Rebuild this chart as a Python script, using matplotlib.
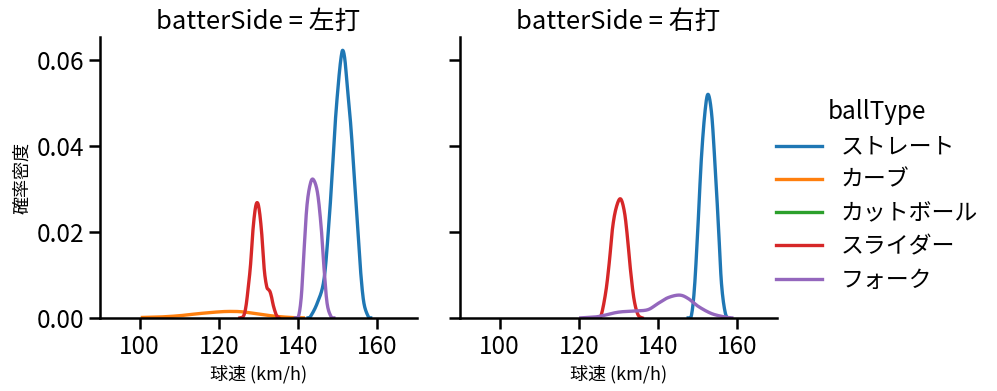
import numpy as np
import matplotlib
matplotlib.use("Agg")
import matplotlib.pyplot as plt

plt.rcParams['font.family'] = ['Noto Sans CJK JP', 'DejaVu Sans']

ball_types = ['ストレート', 'カーブ', 'カットボール', 'スライダー', 'フォーク']
colors = ['#1f77b4', '#ff7f0e', '#2ca02c', '#d62728', '#9467bd']
sides = ['左打', '右打']

# density curves: (speed km/h, density)
left_straight_x = [142.5, 143.1, 144.8, 146.5, 147.7, 148.6, 149.4, 150.3, 150.9, 151.3, 151.8, 152.4, 153.3, 154.1, 155.0, 155.8, 156.6, 157.7, 158.3]
left_straight_y = [0.0, 0.0003, 0.0034, 0.0088, 0.0212, 0.0337, 0.046, 0.0561, 0.0610, 0.0622, 0.0600, 0.0538, 0.0445, 0.0337, 0.0212, 0.0104, 0.0034, 0.0003, 0.0]
left_curve_x = [100.7, 105, 110, 115, 120, 123, 126, 130, 134, 138, 141.3]
left_curve_y = [0.0001, 0.0002, 0.0005, 0.0010, 0.0014, 0.0015, 0.0014, 0.0009, 0.0004, 0.0001, 0.0]
left_slider_x = [125.3, 126.2, 126.8, 127.4, 128.0, 128.6, 129.2, 129.7, 130.2, 130.8, 131.45, 132.06, 132.5, 132.9, 133.3, 133.7, 134.2, 134.6, 135.2]
left_slider_y = [0.0, 0.0004, 0.0025, 0.007, 0.0125, 0.0205, 0.0255, 0.0268, 0.0250, 0.0197, 0.0112, 0.0073, 0.0066, 0.0061, 0.0048, 0.003, 0.0014, 0.0005, 0.0]
left_fork_x = [139.3, 140.1, 140.8, 141.4, 142.2, 143.1, 143.9, 144.9, 145.8, 146.5, 147.3, 148.3, 149.0]
left_fork_y = [0.0, 0.0004, 0.005, 0.0143, 0.0259, 0.0313, 0.0321, 0.029, 0.0212, 0.0119, 0.0034, 0.0003, 0.0]

right_straight_x = [147.6, 148.4, 149.2, 150.1, 150.9, 151.8, 152.6, 153.5, 154.3, 155.2, 156.0, 157.0, 158.0]
right_straight_y = [0.0, 0.0005, 0.0072, 0.022, 0.0367, 0.0476, 0.0520, 0.0476, 0.0367, 0.022, 0.008, 0.001, 0.0]
right_slider_x = [124.6, 125.6, 126.8, 127.7, 128.5, 129.4, 130.5, 131.5, 132.3, 133.0, 133.9, 134.9, 136.0]
right_slider_y = [0.0, 0.0005, 0.006, 0.013, 0.0208, 0.0255, 0.0277, 0.0247, 0.0185, 0.0115, 0.0045, 0.0008, 0.0]
right_fork_x = [120.5, 124.0, 126.0, 128.1, 130.6, 134.0, 137.4, 139.9, 142.5, 145.4, 147.6, 150.1, 153.5, 156.9, 158.6]
right_fork_y = [0.0, 0.0002, 0.0005, 0.001, 0.0014, 0.0016, 0.0019, 0.0033, 0.0047, 0.0053, 0.0045, 0.0027, 0.001, 0.0002, 0.0]

curves = {
    '左打': {'ストレート': (left_straight_x, left_straight_y),
             'カーブ': (left_curve_x, left_curve_y),
             'スライダー': (left_slider_x, left_slider_y),
             'フォーク': (left_fork_x, left_fork_y)},
    '右打': {'ストレート': (right_straight_x, right_straight_y),
             'スライダー': (right_slider_x, right_slider_y),
             'フォーク': (right_fork_x, right_fork_y)},
}

x_ticks = [100, 120, 140, 160]
y_ticks = [0.00, 0.02, 0.04, 0.06]


def smooth(x, y, n=20):
    # catmull-rom through the read points so the line looks like a kde
    p = np.column_stack([x, y]).astype(float)
    p = np.vstack([p[0], p, p[-1]])
    out = []
    t = np.linspace(0, 1, n, endpoint=False)[:, None]
    for i in range(1, len(p) - 2):
        p0, p1, p2, p3 = p[i - 1], p[i], p[i + 1], p[i + 2]
        seg = 0.5 * ((2 * p1) + (-p0 + p2) * t
                     + (2 * p0 - 5 * p1 + 4 * p2 - p3) * t ** 2
                     + (-p0 + 3 * p1 - 3 * p2 + p3) * t ** 3)
        out.append(seg)
    out.append(p[-2][None, :])
    out = np.vstack(out)
    return out[:, 0], np.clip(out[:, 1], 0, None)


fig = plt.figure(figsize=(9.97, 3.91), dpi=100)
ax1 = fig.add_axes([0.1003, 0.187, 0.318, 0.718])
ax2 = fig.add_axes([0.4613, 0.187, 0.318, 0.718], sharey=ax1)

for ax, side in zip([ax1, ax2], sides):
    for bt, c in zip(ball_types, colors):
        if bt in curves[side]:
            xs, ys = smooth(*curves[side][bt])
            ax.plot(xs, ys, color=c, lw=2.4)
    ax.set_xlim(90, 170)
    ax.set_ylim(0, 0.0653)
    ax.set_xticks(x_ticks)
    ax.set_yticks(y_ticks)
    ax.spines['top'].set_visible(False)
    ax.spines['right'].set_visible(False)
    for s in ['left', 'bottom']:
        ax.spines[s].set_linewidth(1.8)
    ax.tick_params(labelsize=17.5, width=1.8, length=8)
    ax.set_title('batterSide = ' + side, fontsize=18.5)
    ax.set_xlabel('球速 (km/h)', fontsize=13)

ax1.set_yticklabels(['0.00', '0.02', '0.04', '0.06'])
ax1.set_ylabel('確率密度', fontsize=13)
plt.setp(ax2.get_yticklabels(), visible=False)

handles = [plt.Line2D([], [], color=c, lw=2.4) for c in colors]
leg = fig.legend(handles, ball_types, title='ballType', loc='center left',
                 bbox_to_anchor=(0.758, 0.5), frameon=False, fontsize=16.5,
                 title_fontsize=17.5, handlelength=2.0, labelspacing=0.45)

fig.savefig('out.png', dpi=100)
